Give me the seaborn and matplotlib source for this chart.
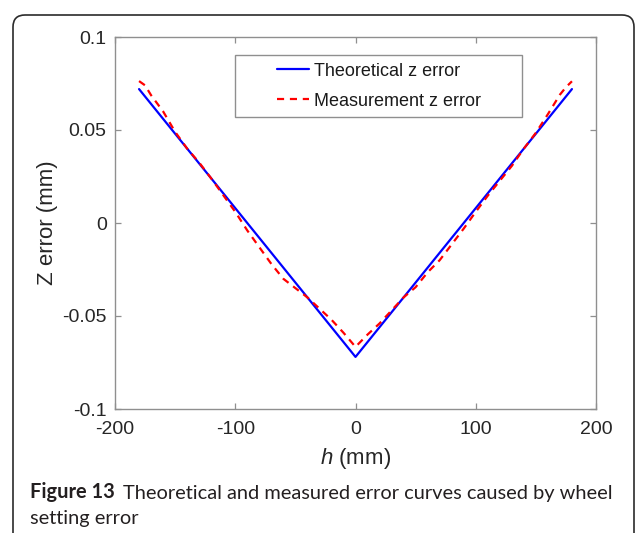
import numpy as np
import pandas as pd
import matplotlib
matplotlib.use("Agg")
import matplotlib.pyplot as plt
from matplotlib.patches import FancyBboxPatch, Rectangle
from matplotlib.transforms import IdentityTransform
import seaborn as sns

# Wheel position h (mm) and vertical error (mm)
h_theory = [-180, 0, 180]
z_theory = [0.072, -0.072, 0.072]

h_meas = [-180, -175, -170, -160, -150, -140, -130, -120, -110, -100, -90, -80,
          -70, -60, -50, -40, -30, -20, -10, 0, 10, 20, 30, 40, 50, 60, 70, 80,
          90, 100, 110, 120, 130, 140, 150, 160, 170, 175, 180]
z_meas = [0.0763, 0.0740, 0.0687, 0.0600, 0.0490, 0.0400, 0.0325, 0.0240,
          0.0150, 0.0060, -0.0040, -0.0130, -0.0220, -0.0300, -0.0350, -0.0400,
          -0.0460, -0.0520, -0.0590, -0.0666, -0.0600, -0.0540, -0.0470, -0.0400,
          -0.0345, -0.0265, -0.0200, -0.0115, -0.0030, 0.0060, 0.0147, 0.0227,
          0.0307, 0.0400, 0.0485, 0.0585, 0.0690, 0.0730, 0.0762]

x_ticks = [-200, -100, 0, 100, 200]
x_tick_labels = ["-200", "-100", "0", "100", "200"]
y_ticks = [-0.1, -0.05, 0, 0.05, 0.1]
y_tick_labels = ["-0.1", "-0.05", "0", "0.05", "0.1"]

label_theory = "Theoretical z error"
label_meas = "Measurement z error"

sns.set_style("white")
plt.rcParams["font.family"] = ["Liberation Sans", "DejaVu Sans"]
plt.rcParams["mathtext.fontset"] = "custom"
plt.rcParams["mathtext.it"] = "Liberation Sans:italic"
plt.rcParams["mathtext.rm"] = "Liberation Sans"

W, H = 637, 533
fig = plt.figure(figsize=(W / 100, H / 100), dpi=100)
ax = fig.add_axes([115 / W, 124 / H, 481 / W, 372 / H])

df_t = pd.DataFrame({"h": h_theory, "z": z_theory})
df_m = pd.DataFrame({"h": h_meas, "z": z_meas})

sns.lineplot(data=df_t, x="h", y="z", ax=ax, color="#0000ff", lw=1.6,
             label=label_theory, sort=False)
sns.lineplot(data=df_m, x="h", y="z", ax=ax, color="#ff0000", lw=1.6,
             label=label_meas, sort=False)
ax.lines[1].set_dashes([3.2, 2.6])

ax.set_xlim(-200, 200)
ax.set_ylim(-0.1, 0.1)
ax.set_xticks(x_ticks)
ax.set_xticklabels(x_tick_labels)
ax.set_yticks(y_ticks)
ax.set_yticklabels(y_tick_labels)

spine_col = "#8f8f8f"
for s in ax.spines.values():
    s.set_color(spine_col)
    s.set_linewidth(1.0)
    s.set_visible(True)
ax.tick_params(axis="both", which="major", direction="in", length=4.5,
               width=0.9, color=spine_col, labelsize=14, labelcolor="#262626",
               top=True, right=True, bottom=True, left=True)
ax.tick_params(axis="x", pad=9)
ax.tick_params(axis="y", pad=6)

ax.set_xlabel("$h$ (mm)", fontsize=16, color="#262626")
ax.set_ylabel("Z error (mm)", fontsize=16, color="#262626")
ax.xaxis.set_label_coords(0.5, -0.10)
ax.yaxis.set_label_coords(-0.118, 0.5)

# Legend: entries centred inside a hand-sized frame
leg = ax.legend(loc="center", bbox_to_anchor=(0.548, 0.868), frameon=False,
                fontsize=13, handlelength=1.8, handletextpad=0.25,
                labelspacing=0.72, borderaxespad=0)
for t in leg.get_texts():
    t.set_color("#1a1a1a")
ax.add_patch(Rectangle((0.2495, 0.785), 0.5965, 0.1666, transform=ax.transAxes,
                       fill=True, fc="white", ec="#8f8f8f", lw=1.0, zorder=4))
leg.set_zorder(5)

# Rounded outer panel frame
fig.patches.append(FancyBboxPatch((13, -30), 621, 548,
                                  boxstyle="round,pad=0,rounding_size=12",
                                  fill=False, ec="#2b2b2b", lw=1.2,
                                  transform=IdentityTransform(), figure=fig))

# Caption
cap_font = ["Lato", "DejaVu Sans"]
cap_size = 14.4
t1 = fig.text(30 / W, 1 - 502 / H, "Figure 13", fontsize=cap_size, fontweight="bold",
              family=cap_font, color="#231f20", va="bottom", ha="left")
ax.annotate("Theoretical and measured error curves caused by wheel",
            xy=(1, 0), xycoords=t1, xytext=(6, 0), textcoords="offset points",
            fontsize=cap_size, family=cap_font, color="#231f20", va="bottom",
            ha="left", annotation_clip=False)
fig.text(30 / W, 1 - 527 / H, "setting error", fontsize=cap_size, family=cap_font,
         color="#231f20", va="bottom", ha="left")

fig.savefig("out.png", dpi=100)
